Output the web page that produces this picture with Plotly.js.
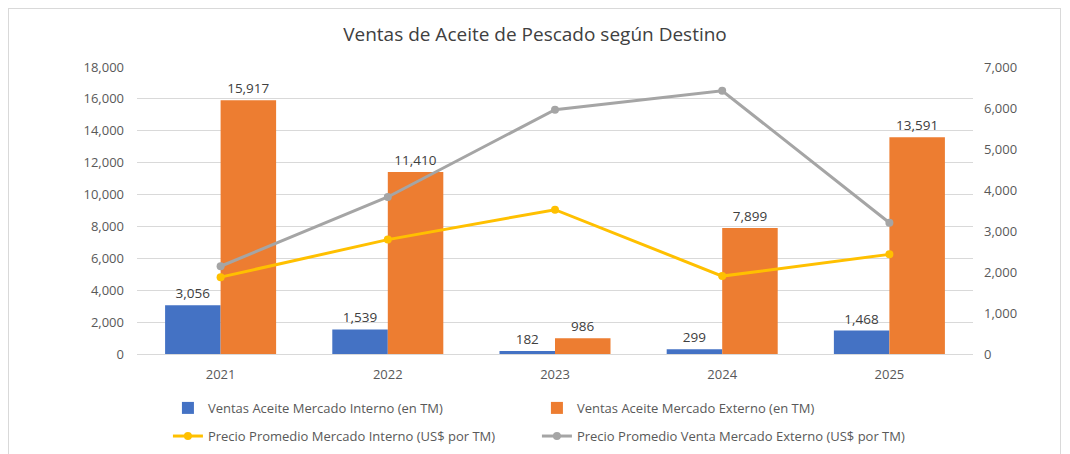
<!DOCTYPE html>
<html><head><meta charset="utf-8">
<script src="https://cdn.plot.ly/plotly-3.0.1.min.js"></script>
<style>
body{margin:0;background:#fff;}
#wrap{position:relative;width:1070px;height:454px;}
#chart{width:1070px;height:454px;}
#frame{position:absolute;left:8px;top:8px;width:1053px;height:450px;border:1px solid #d9d9d9;pointer-events:none;box-sizing:border-box;}
</style></head>
<body><div id="wrap"><div id="chart"></div><div id="frame"></div></div>
<script>
const years = ['2021','2022','2023','2024','2025'];
const ventasInterno = [3056, 1539, 182, 299, 1468];
const ventasExterno = [15917, 11410, 986, 7899, 13591];
const precioInterno = [1875, 2790, 3520, 1900, 2430];
const precioExterno = [2140, 3830, 5960, 6420, 3200];
const nameVI = 'Ventas Aceite Mercado Interno (en TM)';
const nameVE = 'Ventas Aceite Mercado Externo (en TM)';
const namePI = 'Precio Promedio Mercado Interno (US$ por TM)';
const namePE = 'Precio Promedio Venta Mercado Externo (US$ por TM)';

const F = 'Open Sans, sans-serif';
const traces = [
 {type:'bar', x:years, y:ventasInterno, name:nameVI, marker:{color:'#4472C4'}, legend:'legend',
  text:ventasInterno, texttemplate:'%{y:,}', textposition:'outside', cliponaxis:false,
  textfont:{color:'#404040', size:13.5, family:F}},
 {type:'bar', x:years, y:ventasExterno, name:nameVE, marker:{color:'#ED7D31'}, legend:'legend',
  text:ventasExterno, texttemplate:'%{y:,}', textposition:'outside', cliponaxis:false,
  textfont:{color:'#404040', size:13.5, family:F}},
 {type:'scatter', mode:'lines+markers', x:years, y:precioInterno, name:namePI, yaxis:'y2', legend:'legend2',
  line:{color:'#FFC000', width:3}, marker:{color:'#FFC000', size:8}},
 {type:'scatter', mode:'lines+markers', x:years, y:precioExterno, name:namePE, yaxis:'y2', legend:'legend2',
  line:{color:'#A5A5A5', width:3}, marker:{color:'#A5A5A5', size:8}}
];
const legBase = {orientation:'h', x:0.037, xanchor:'left', yanchor:'middle',
  entrywidth:324, entrywidthmode:'pixels', traceorder:'normal',
  font:{family:F, size:13, color:'#595959'}, bgcolor:'rgba(0,0,0,0)'};
const layout = {
 width:1070, height:454,
 margin:{l:137, r:97, t:67, b:100, autoexpand:false},
 paper_bgcolor:'#fff', plot_bgcolor:'#fff',
 font:{family:F, color:'#595959', size:13},
 title:{text:'Ventas de Aceite de Pescado según Destino', x:0.5, xanchor:'center', y:0.925, yanchor:'middle',
  font:{family:F, size:19, color:'#404040'}},
 barmode:'group', bargap:0.336, bargroupgap:0,
 showlegend:true,
 legend:Object.assign({}, legBase, {y:-0.188}),
 legend2:Object.assign({}, legBase, {y:-0.286}),
 xaxis:{type:'category', showgrid:false, showline:true, linecolor:'#d9d9d9', linewidth:1,
  ticks:'', ticklabelstandoff:8, tickfont:{size:13, color:'#595959'}},
 yaxis:{range:[0,18000], dtick:2000, tickformat:',', showgrid:true, gridcolor:'#d9d9d9', gridwidth:1,
  zeroline:true, zerolinecolor:'#d9d9d9', ticks:'', ticklabelstandoff:12, tickfont:{size:13, color:'#595959'}},
 yaxis2:{overlaying:'y', side:'right', range:[0,7000], dtick:1000, tickformat:',', showgrid:false,
  zeroline:false, ticks:'', ticklabelstandoff:10, tickfont:{size:13, color:'#595959'}}
};
Plotly.newPlot('chart', traces, layout, {displayModeBar:false, staticPlot:true});
</script></body></html>
